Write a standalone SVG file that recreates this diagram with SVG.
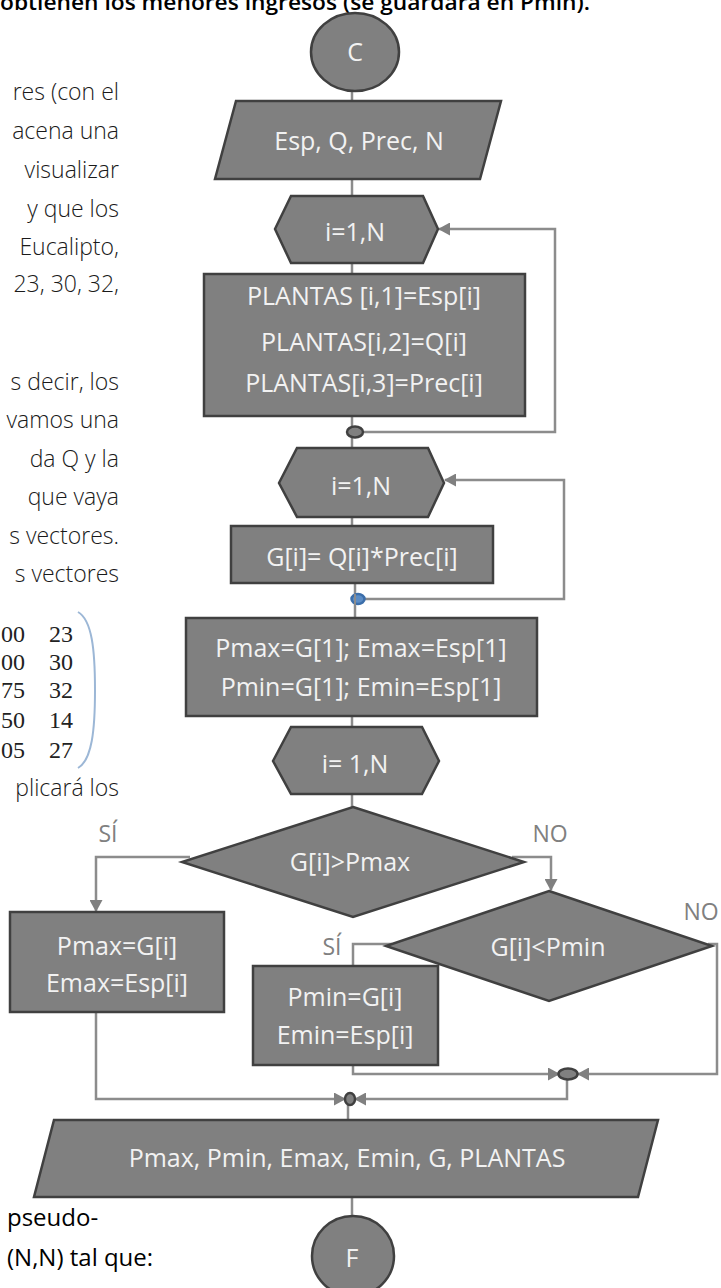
<svg xmlns="http://www.w3.org/2000/svg" width="721" height="1288" viewBox="0 0 721 1288">
<defs>
<marker id="arr" markerUnits="userSpaceOnUse" markerWidth="12" markerHeight="13" refX="11" refY="6.5" orient="auto"><path d="M0,0 L12,6.5 L0,13 z" fill="#808080"/></marker>
<style>
.n{fill:#808080;stroke:#404040;stroke-width:2.5}
.t{font-family:"Open Sans","DejaVu Sans",sans-serif;font-size:25px;fill:#f2f2f2;text-anchor:middle}
.c{fill:none;stroke:#8c8c8c;stroke-width:2.5}
.a{marker-end:url(#arr)}
.lbl{font-family:"Open Sans","DejaVu Sans",sans-serif;font-size:23px;fill:#808080;text-anchor:middle}
.doc{font-family:"Open Sans","DejaVu Sans",sans-serif;font-size:23px;font-weight:300;fill:#1a1a1a;text-anchor:end}
.mat{font-family:"Liberation Serif",serif;font-size:24px;fill:#222;text-anchor:end}
.blk{font-family:"Open Sans","DejaVu Sans",sans-serif;font-size:24px;fill:#000}
</style>
</defs>
<rect width="721" height="1288" fill="#ffffff"/>
<g id="page-text">
<text x="0" y="10" font-family="'Open Sans',sans-serif" font-size="22" font-weight="600" fill="#000" textLength="590" lengthAdjust="spacingAndGlyphs">obtienen los menores ingresos (se guardará en Pmin).</text>
<text class="doc" x="119" y="100">res (con el</text>
<text class="doc" x="119" y="139">acena una</text>
<text class="doc" x="119" y="178">visualizar</text>
<text class="doc" x="119" y="217">y que los</text>
<text class="doc" x="119" y="255">Eucalipto,</text>
<text class="doc" x="119" y="292">23, 30, 32,</text>
<text class="doc" x="119" y="390">s decir, los</text>
<text class="doc" x="119" y="428">vamos una</text>
<text class="doc" x="119" y="467">da Q y la</text>
<text class="doc" x="119" y="505">que vaya</text>
<text class="doc" x="119" y="544">s vectores.</text>
<text class="doc" x="119" y="582">s vectores</text>
<text class="mat" x="25" y="642">00</text><text class="mat" x="73" y="642">23</text>
<text class="mat" x="25" y="670">00</text><text class="mat" x="73" y="670">30</text>
<text class="mat" x="25" y="698">75</text><text class="mat" x="73" y="698">32</text>
<text class="mat" x="25" y="728">50</text><text class="mat" x="73" y="728">14</text>
<text class="mat" x="25" y="758">05</text><text class="mat" x="73" y="758">27</text>
<path d="M78,612 C92,620 95,650 95,690 C95,730 92,760 78,768" fill="none" stroke="#9cb7d6" stroke-width="2"/>
<text class="doc" x="119" y="796">plicará los</text>
<text class="blk" x="7" y="1226">pseudo-</text>
<text class="blk" x="7" y="1266">(N,N) tal que:</text>
</g>
<g id="connectors">
<path class="c" d="M352,91 V101"/>
<path class="c" d="M352,179 V196"/>
<path class="c" d="M352,263 V274"/>
<path class="c" d="M352,416 V427"/>
<path class="c a" d="M364,432 H555 V229 H439"/>
<path class="c" d="M352,437 V448"/>
<path class="c" d="M352,517 V526"/>
<path class="c" d="M355,583 V618"/>
<path class="c a" d="M365,599 H564 V480 H445"/>
<path class="c" d="M352,716 V727"/>
<path class="c" d="M352,794 V807"/>
<path class="c a" d="M190,857 H96 V911"/>
<path class="c a" d="M512,857 H551 V890"/>
<path class="c" d="M392,944 H353 V966"/>
<path class="c a" d="M708,944 H717 V1074 H578"/>
<path class="c a" d="M353,1065 V1074 H559"/>
<path class="c a" d="M567,1079 V1099 H355"/>
<path class="c a" d="M96,1012 V1099 H345"/>
<path class="c" d="M348,1105 V1120"/>
<path class="c" d="M352,1197 V1216"/>
</g>
<g id="n-start"><ellipse class="n" cx="355" cy="52" rx="44" ry="39"/><text class="t" x="355" y="61">C</text></g>
<g id="n-input"><polygon class="n" points="236,101 501,101 480,179 215,179"/><text class="t" x="359" y="150">Esp, Q, Prec, N</text></g>
<g id="n-loop1"><polygon class="n" points="275,229 291,196 423,196 438,229 423,263 291,263"/><text class="t" x="355" y="241">i=1,N</text></g>
<g id="n-plantas"><rect class="n" x="204" y="274" width="321" height="142"/>
<text class="t" x="364" y="305">PLANTAS [i,1]=Esp[i]</text>
<text class="t" x="364" y="351">PLANTAS[i,2]=Q[i]</text>
<text class="t" x="364" y="392">PLANTAS[i,3]=Prec[i]</text></g>
<g id="n-merge1"><ellipse class="n" cx="355" cy="432" rx="8" ry="5.5"/></g>
<g id="n-loop2"><polygon class="n" points="279,483 297,448 428,448 444,483 428,517 297,517"/><text class="t" x="361" y="495">i=1,N</text></g>
<g id="n-g"><rect class="n" x="231" y="526" width="262" height="57"/><text class="t" x="362" y="566">G[i]= Q[i]*Prec[i]</text></g>
<g id="n-merge2"><ellipse cx="358" cy="599" rx="6.5" ry="5" fill="#5b8cc5" stroke="#3b6eaa" stroke-width="2.5"/><path d="M355,594 V605" stroke="#8c8c8c" stroke-width="2"/></g>
<g id="n-init"><rect class="n" x="186" y="618" width="351" height="98"/>
<text class="t" x="361" y="657">Pmax=G[1]; Emax=Esp[1]</text>
<text class="t" x="361" y="696">Pmin=G[1]; Emin=Esp[1]</text></g>
<g id="n-loop3"><polygon class="n" points="273,761 291,727 422,727 439,761 422,794 291,794"/><text class="t" x="355" y="773">i= 1,N</text></g>
<g id="n-dec1"><polygon class="n" points="353,807 524,862 353,917 182,862"/><text class="t" x="350" y="871">G[i]&gt;Pmax</text></g>
<g id="n-labels">
<text class="lbl" x="108" y="842">SÍ</text>
<text class="lbl" x="550" y="842">NO</text>
<text class="lbl" x="701" y="920">NO</text>
<text class="lbl" x="332" y="955">SÍ</text>
</g>
<g id="n-setmax"><rect class="n" x="10" y="912" width="214" height="100"/>
<text class="t" x="117" y="955">Pmax=G[i]</text>
<text class="t" x="117" y="992">Emax=Esp[i]</text></g>
<g id="n-dec2"><polygon class="n" points="549,891 712,946 549,1001 386,946"/><text class="t" x="548" y="956">G[i]&lt;Pmin</text></g>
<g id="n-setmin"><rect class="n" x="253" y="966" width="185" height="99"/>
<text class="t" x="345" y="1006">Pmin=G[i]</text>
<text class="t" x="345" y="1044">Emin=Esp[i]</text></g>
<g id="n-merge3"><ellipse class="n" cx="568" cy="1074" rx="9.5" ry="5.5"/></g>
<g id="n-merge4"><ellipse class="n" cx="350" cy="1099" rx="5" ry="6"/></g>
<g id="n-output"><polygon class="n" points="54,1120 658,1120 638,1197 34,1197"/><text class="t" x="347" y="1167">Pmax, Pmin, Emax, Emin, G, PLANTAS</text></g>
<g id="n-end"><ellipse class="n" cx="353" cy="1256" rx="41" ry="40"/><text class="t" x="352" y="1267">F</text></g>
</svg>
